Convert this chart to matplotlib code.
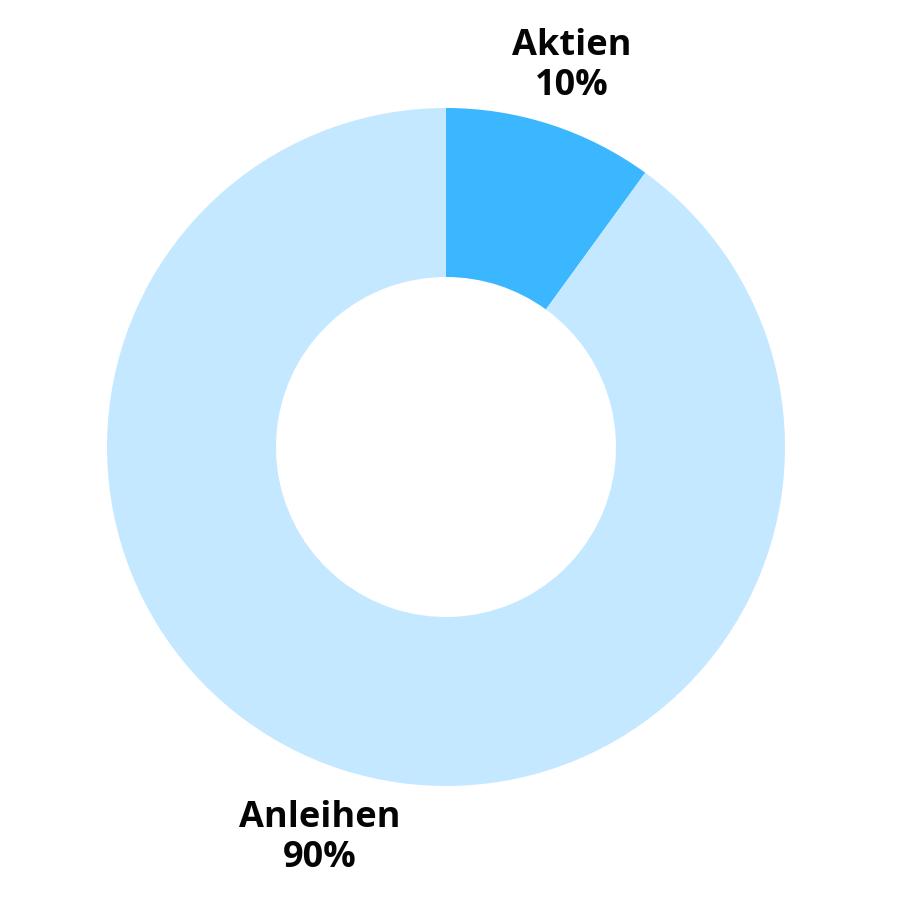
import matplotlib.pyplot as plt

categories = ["Aktien", "Anleihen"]
shares = [10, 90]
colors = ["#3bb7ff", "#c4e8ff"]

plt.rcParams['font.family'] = ['Open Sans', 'DejaVu Sans']

fig = plt.figure(figsize=(9, 9), dpi=100)
ax = fig.add_axes([0, 0, 1, 1])

cx, cy = 446, 453
r_out = 339
ax.pie(shares, colors=colors, startangle=90, counterclock=False,
       center=(cx, cy), radius=r_out,
       wedgeprops=dict(width=169, linewidth=0), frame=True)
ax.set_xlim(0, 900)
ax.set_ylim(0, 900)
ax.set_aspect('equal')
ax.axis('off')

# label positions (outside the ring)
label_pos = [(572, 834), (320, 62)]
for name, val, (x, y) in zip(categories, shares, label_pos):
    ax.text(x, y, f"{name}\n{val}%", ha='center', va='center',
            fontsize=26, fontweight='bold', color='#050505', linespacing=1.13)

fig.savefig("out.png", dpi=100)
